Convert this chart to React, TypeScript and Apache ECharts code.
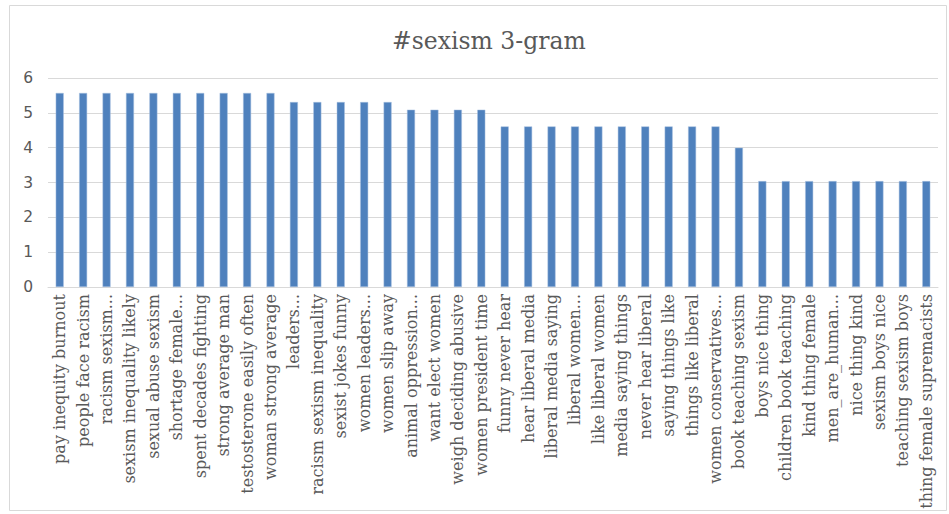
import React, { useEffect, useRef } from "react";
import * as echarts from "echarts";

// 3-gram phrases and their scores
const categories: string[] = [
  "pay inequity burnout",
  "people face racism",
  "racism sexism...",
  "sexism inequality likely",
  "sexual abuse sexism",
  "shortage female...",
  "spent decades fighting",
  "strong average man",
  "testosterone easily often",
  "woman strong average",
  "leaders...",
  "racism sexism inequality",
  "sexist jokes funny",
  "women leaders...",
  "women slip away",
  "animal oppression...",
  "want elect women",
  "weigh deciding abusive",
  "women president time",
  "funny never hear",
  "hear liberal media",
  "liberal media saying",
  "liberal women...",
  "like liberal women",
  "media saying things",
  "never hear liberal",
  "saying things like",
  "things like liberal",
  "women conservatives...",
  "book teaching sexism",
  "boys nice thing",
  "children book teaching",
  "kind thing female",
  "men_are_human...",
  "nice thing kind",
  "sexism boys nice",
  "teaching sexism boys",
  "thing female supremacists",
];

const scores: number[] = [
  5.57, 5.57, 5.57, 5.57, 5.57, 5.57, 5.57, 5.57, 5.57, 5.57,
  5.31, 5.31, 5.31, 5.31, 5.31,
  5.09, 5.09, 5.09, 5.09,
  4.61, 4.61, 4.61, 4.61, 4.61, 4.61, 4.61, 4.61, 4.61, 4.61,
  4.0,
  3.04, 3.04, 3.04, 3.04, 3.04, 3.04, 3.04, 3.04,
];

const chartTitle = "#sexism 3-gram";
const yMin = 0;
const yMax = 6;
const yStep = 1;

export default function App() {
  const ref = useRef<HTMLDivElement>(null);

  useEffect(() => {
    if (!ref.current) return;
    const chart = echarts.init(ref.current, undefined, { renderer: "svg" });
    chart.setOption({
      animation: false,
      backgroundColor: "#ffffff",
      title: {
        text: chartTitle,
        left: 387,
        top: 24,
        textStyle: {
          fontFamily: "DejaVu Serif",
          fontSize: 23.5,
          fontWeight: "normal",
          color: "#595959",
        },
      },
      graphic: [
        {
          type: "rect",
          shape: { x: 9.5, y: 5.5, width: 937, height: 505 },
          style: { fill: "none", stroke: "#d9d9d9", lineWidth: 1 },
          silent: true,
        },
      ],
      grid: { left: 48, right: 11, top: 78, bottom: 227 },
      xAxis: {
        type: "category",
        data: categories,
        axisLine: { lineStyle: { color: "#d9d9d9" } },
        axisTick: { show: false },
        axisLabel: {
          rotate: 90,
          interval: 0,
          margin: 7,
          fontFamily: "DejaVu Serif",
          fontSize: 16,
          color: "#595959",
        },
      },
      yAxis: {
        type: "value",
        min: yMin,
        max: yMax,
        interval: yStep,
        axisLine: { show: false },
        axisTick: { show: false },
        splitLine: { lineStyle: { color: "#d9d9d9" } },
        axisLabel: {
          margin: 15,
          fontFamily: "DejaVu Sans",
          fontSize: 15.5,
          color: "#595959",
        },
      },
      series: [
        {
          type: "bar",
          data: scores,
          barWidth: 8,
          itemStyle: { color: "#4f81bd", borderColor: "#a9c1e0", borderWidth: 0.5 },
        },
      ],
    });
    return () => chart.dispose();
  }, []);

  return (
    <div
      ref={ref}
      style={{ position: "absolute", left: 0, top: 0, width: 949, height: 514 }}
    />
  );
}
